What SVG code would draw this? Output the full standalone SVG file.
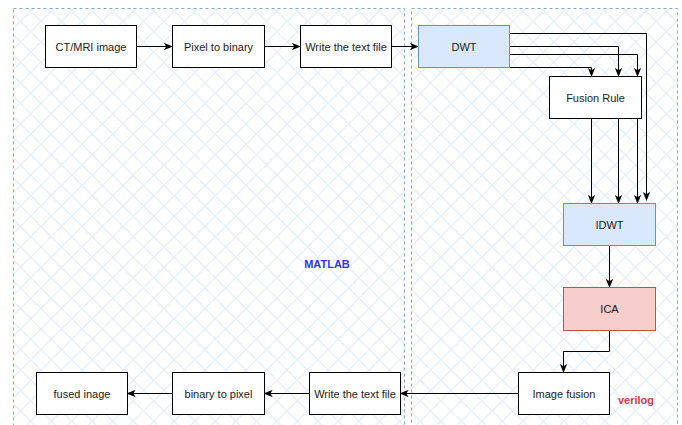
<svg xmlns="http://www.w3.org/2000/svg" width="682" height="425" viewBox="0 0 682 425">
  <defs>
    <pattern id="hatch" width="14.5" height="14.5" patternUnits="userSpaceOnUse" patternTransform="rotate(45)">
      <path d="M0,0 H14.5 M0,0 V14.5" stroke="#e4ecf9" stroke-width="2.4" fill="none"/>
    </pattern>
    <marker id="arrow" viewBox="0 0 10 8" refX="9" refY="4" markerWidth="9" markerHeight="7.5" markerUnits="userSpaceOnUse" orient="auto">
      <path d="M0,0 L10,4 L0,8 L2.5,4 Z" fill="#000"/>
    </marker>
    <style>
      .box { fill: #ffffff; stroke: #000000; stroke-width: 1; }
      .blue { fill: #dae8fc; stroke: #6c8ebf; stroke-width: 1; }
      .red { fill: #f8cecc; stroke: #b85450; stroke-width: 1; }
      .label { font-family: "Liberation Sans", Arial, sans-serif; font-size: 11px; fill: #1a1a1a; text-anchor: middle; dominant-baseline: central; }
      .zone { fill: url(#hatch); stroke: #7ea6e0; stroke-width: 1; stroke-dasharray: 3 3; }
      .edge { fill: none; stroke: #000; stroke-width: 1; marker-end: url(#arrow); }
      .tag { font-family: "Liberation Sans", Arial, sans-serif; font-size: 11px; font-weight: bold; text-anchor: middle; dominant-baseline: central; }
    </style>
  </defs>

  <rect width="682" height="425" fill="#ffffff"/>

  <!-- containers -->
  <g id="matlab-zone">
    <rect class="zone" x="13.5" y="8.5" width="391" height="430"/>
    <text class="tag" x="327" y="264" fill="#3333ff">MATLAB</text>
  </g>
  <g id="verilog-zone">
    <rect class="zone" x="411.5" y="8.5" width="266" height="430"/>
    <text class="tag" x="636" y="400" fill="#e03a3a">verilog</text>
  </g>

  <!-- connectors -->
  <g id="connectors">
    <path class="edge" d="M136.5,46.5 H172"/>
    <path class="edge" d="M264.5,46.5 H300"/>
    <path class="edge" d="M391.5,46.5 H418"/>
    <path class="edge" d="M509.5,33.5 H646.5 V200"/>
    <path class="edge" d="M509.5,46.5 H618.5 V76"/>
    <path class="edge" d="M509.5,54.5 H637.5 V76"/>
    <path class="edge" d="M495,67.5 H591.5 V76"/>
    <path class="edge" d="M591.5,118.5 V203"/>
    <path class="edge" d="M618.5,118.5 V203"/>
    <path class="edge" d="M637.5,118.5 V203"/>
    <path class="edge" d="M609.5,245.5 V287"/>
    <path class="edge" d="M609.5,330.5 V351.5 H563.5 V372"/>
    <path class="edge" d="M518,393.5 H400.5"/>
    <path class="edge" d="M309,393.5 H264.5"/>
    <path class="edge" d="M172,393.5 H127.5"/>
  </g>

  <!-- nodes -->
  <g id="ct-mri-image">
    <rect class="box" x="45.5" y="25.5" width="91" height="42"/>
    <text class="label" x="91" y="46.5">CT/MRI image</text>
  </g>
  <g id="pixel-to-binary">
    <rect class="box" x="172.5" y="25.5" width="92" height="42"/>
    <text class="label" x="218.5" y="46.5">Pixel to binary</text>
  </g>
  <g id="write-text-file-1">
    <rect class="box" x="300.5" y="25.5" width="91" height="42"/>
    <text class="label" x="346" y="46.5">Write the text file</text>
  </g>
  <g id="dwt">
    <rect class="blue" x="418.5" y="25.5" width="91" height="42"/>
    <text class="label" x="464" y="46.5">DWT</text>
  </g>
  <g id="fusion-rule">
    <rect class="box" x="549.5" y="76.5" width="92" height="42"/>
    <text class="label" x="595.5" y="97.5">Fusion Rule</text>
  </g>
  <g id="idwt">
    <rect class="blue" x="563.5" y="203.5" width="92" height="42"/>
    <text class="label" x="609.5" y="224.5">IDWT</text>
  </g>
  <g id="ica">
    <rect class="red" x="563.5" y="287.5" width="92" height="43"/>
    <text class="label" x="609.5" y="309">ICA</text>
  </g>
  <g id="image-fusion">
    <rect class="box" x="518.5" y="372.5" width="91" height="42"/>
    <text class="label" x="564" y="393.5">Image fusion</text>
  </g>
  <g id="write-text-file-2">
    <rect class="box" x="309.5" y="372.5" width="91" height="42"/>
    <text class="label" x="355" y="393.5">Write the text file</text>
  </g>
  <g id="binary-to-pixel">
    <rect class="box" x="172.5" y="372.5" width="92" height="42"/>
    <text class="label" x="218.5" y="393.5">binary to pixel</text>
  </g>
  <g id="fused-inage">
    <rect class="box" x="36.5" y="372.5" width="91" height="42"/>
    <text class="label" x="82" y="393.5">fused inage</text>
  </g>
</svg>
